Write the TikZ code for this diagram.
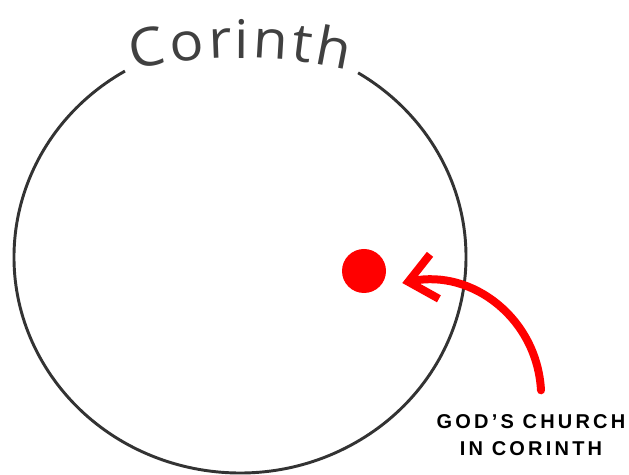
\documentclass[tikz,border=0pt]{standalone}
\usepackage{fontspec}
\setmainfont{Liberation Sans}
\newfontfamily\titlefont{Open Sans}[FakeStretch=1.06]
\newfontfamily\labelfont{Liberation Sans}[LetterSpace=16]
\definecolor{RingColor}{RGB}{51,51,51}
\definecolor{TitleColor}{RGB}{64,64,64}
\definecolor{ChurchRed}{RGB}{255,0,0}
\usepackage{tikz}
\usetikzlibrary{positioning, arrows.meta, decorations.text}

\begin{document}
\begin{tikzpicture}[x=0.75pt, y=0.75pt]
          \useasboundingbox (0,0) rectangle (629,475);
          % city ring with a gap for the name
          \draw[RingColor, line width=2.2pt] (240,218) ++(120.6:226 and 216) arc[start angle=120.6, end angle=418.5, x radius=226, y radius=216];
          \path[decorate, decoration={text effects along path, text={Corinth},
              text effects/.cd, text along path, fit text to path,
              characters={text=TitleColor, inner sep=0pt, font=\titlefont\fontsize{40}{40}\selectfont}}]
            (240,-68) ++(102.8:485) arc[start angle=102.8, end angle=77.2, radius=485];

          \node[circle, fill=ChurchRed, minimum size=33pt, inner sep=0pt] (church) at (364,204) {};
          \node[align=center, inner sep=0pt, font=\labelfont\bfseries\fontsize{15}{20}\selectfont] (label) at (531,40) {GOD’S CHURCH\\IN CORINTH};
          \coordinate (tail) at ([shift={(10,24)}]label.north);
          \draw[ChurchRed, line width=6pt, line cap=round, -{Straight Barb[length=20pt, width=34pt]}]
            (tail) .. controls +(-4,72) and +(70,14) .. ([xshift=12pt, yshift=-9pt]church.east);
        \end{tikzpicture}
\end{document}
